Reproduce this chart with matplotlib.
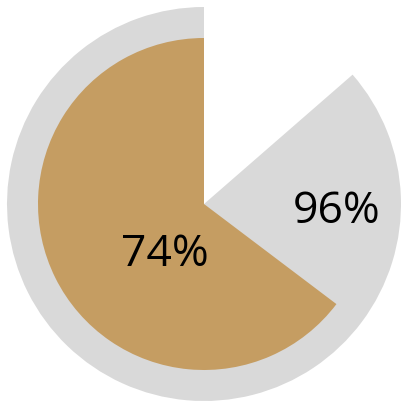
import matplotlib
matplotlib.use("Agg")
from matplotlib import pyplot as plt

# 表示ラベル
labels = ["96%", "74%"]
# 円周に対する扇形の割合
shares = [0.864, 0.647]
colors = ["#D9D9D9", "#C59D62"]
radii = [197, 166]


def main():
    fig = plt.figure(figsize=(4.01, 4.01), dpi=100)
    ax = fig.add_axes([0, 0, 1, 1])
    for share, color, r in zip(shares, colors, radii):
        ax.pie([share, 1 - share], startangle=90, counterclock=True,
               colors=[color, "none"], radius=r, center=(0, 0),
               wedgeprops=dict(linewidth=0))
    ax.set_xlim(-204, 197)
    ax.set_ylim(-197, 204)
    ax.set_aspect("equal")
    ax.axis("off")

    ax.text(133, -8, labels[0], ha="center", va="center",
            fontsize=32, family="Open Sans", color="black")
    ax.text(-39, -51, labels[1], ha="center", va="center",
            fontsize=32, family="Open Sans", color="black")
    fig.savefig("out.png", dpi=100)


if __name__ == "__main__":
    main()
